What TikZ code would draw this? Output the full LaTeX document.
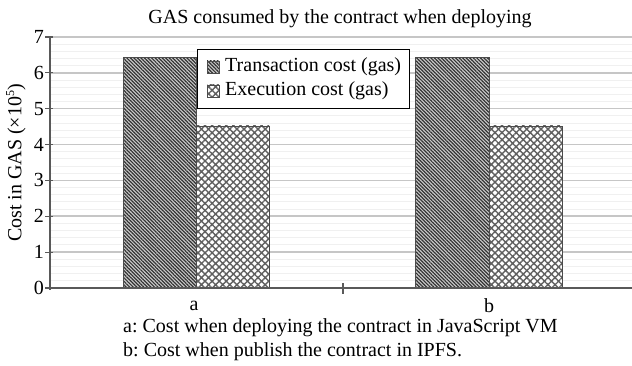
\documentclass[tikz,border=0pt]{standalone}
\usepackage{fontspec}
\setmainfont{Liberation Serif}
\usetikzlibrary{patterns.meta}
\frenchspacing
\tikzset{
  txt/.style={inner sep=0pt, font=\fontsize{20}{22}\selectfont},
  majorgrid/.style={draw=gray!45, line width=1.6pt},
  minorgrid/.style={draw=gray!12, line width=1pt},
  axisline/.style={draw=gray!70!black, line width=1.2pt},
  trans/.style={pattern={Lines[angle=-45,distance=2.5pt,line width=1.2pt]}, pattern color=black!80},
  transbg/.style={fill=gray!40},
  exec/.style={pattern={Hatch[angle=45,distance=5pt,line width=1.4pt]}, pattern color=gray!75!black},
  barframe/.style={draw=gray!60!black, line width=0.9pt},
}
\begin{document}
\begin{tikzpicture}[x=1pt,y=-1pt]
\useasboundingbox (0,0) rectangle (632,366);
\fill[white] (0,0) rectangle (632,366);
% minor grid
\foreach \i in {1,...,34}{
  \pgfmathsetmacro{\yy}{288-35.86*\i/5}
  \draw[minorgrid] (50,\yy) -- (632,\yy);
}
% major grid
\foreach \v in {1,...,7}{
  \pgfmathsetmacro{\yy}{288-35.86*\v}
  \draw[majorgrid] (50,\yy) -- (632,\yy);
}
% bars
\fill[transbg] (123,288) rectangle (196,57.5);
\fill[trans] (123,288) rectangle (196,57.5);
\draw[barframe] (123,288) rectangle (196,57.5);
\fill[white] (196,288) rectangle (269,126);
\fill[exec] (196,288) rectangle (269,126);
\draw[barframe] (196,288) rectangle (269,126);
\fill[transbg] (415,288) rectangle (489,57.5);
\fill[trans] (415,288) rectangle (489,57.5);
\draw[barframe] (415,288) rectangle (489,57.5);
\fill[white] (489,288) rectangle (562,126);
\fill[exec] (489,288) rectangle (562,126);
\draw[barframe] (489,288) rectangle (562,126);
% axes
\draw[axisline] (50,37) -- (50,290);
\draw[axisline] (50,288) -- (632,288);
\foreach \v in {0,...,7}{
  \pgfmathsetmacro{\yy}{288-35.86*\v}
  \draw[axisline] (45,\yy) -- (53,\yy);
  \node[txt, anchor=east] (yl\v) at (44,\yy) {\v};
}
\draw[axisline] (343,283) -- (343,294);
% category labels
\node[txt] (ca) at (194,306) {a};
\node[txt] (cb) at (489,306) {b};
% title
\node[txt] (title) at (340,19) {GAS consumed by the contract when deploying};
% y label
\node[txt, rotate=90] (ylab) at (16,163) {Cost in GAS (×10\raisebox{0.8ex}{\fontsize{12}{12}\selectfont 5})};
% legend
\node[draw=black, line width=1pt, fill=white, minimum width=212pt, minimum height=59pt, inner sep=0pt] (legend) at (303,79.5) {};
\fill[transbg] (207,61) rectangle (219,73);
\fill[trans] (207,61) rectangle (219,73);
\draw[barframe] (207,61) rectangle (219,73);
\fill[white] (207,85) rectangle (219,97);
\fill[exec] (207,85) rectangle (219,97);
\draw[barframe] (207,85) rectangle (219,97);
\node[txt, anchor=west] (l1) at (225,67) {Transaction cost (gas)};
\node[txt, anchor=west] (l2) at (225,91) {Execution cost (gas)};
% captions
\node[txt, anchor=west] (c1) at (123,328) {a: Cost when deploying the contract in JavaScript VM};
\node[txt, anchor=west] (c2) at (123,352) {b: Cost when publish the contract in IPFS.};
\end{tikzpicture}
\end{document}
